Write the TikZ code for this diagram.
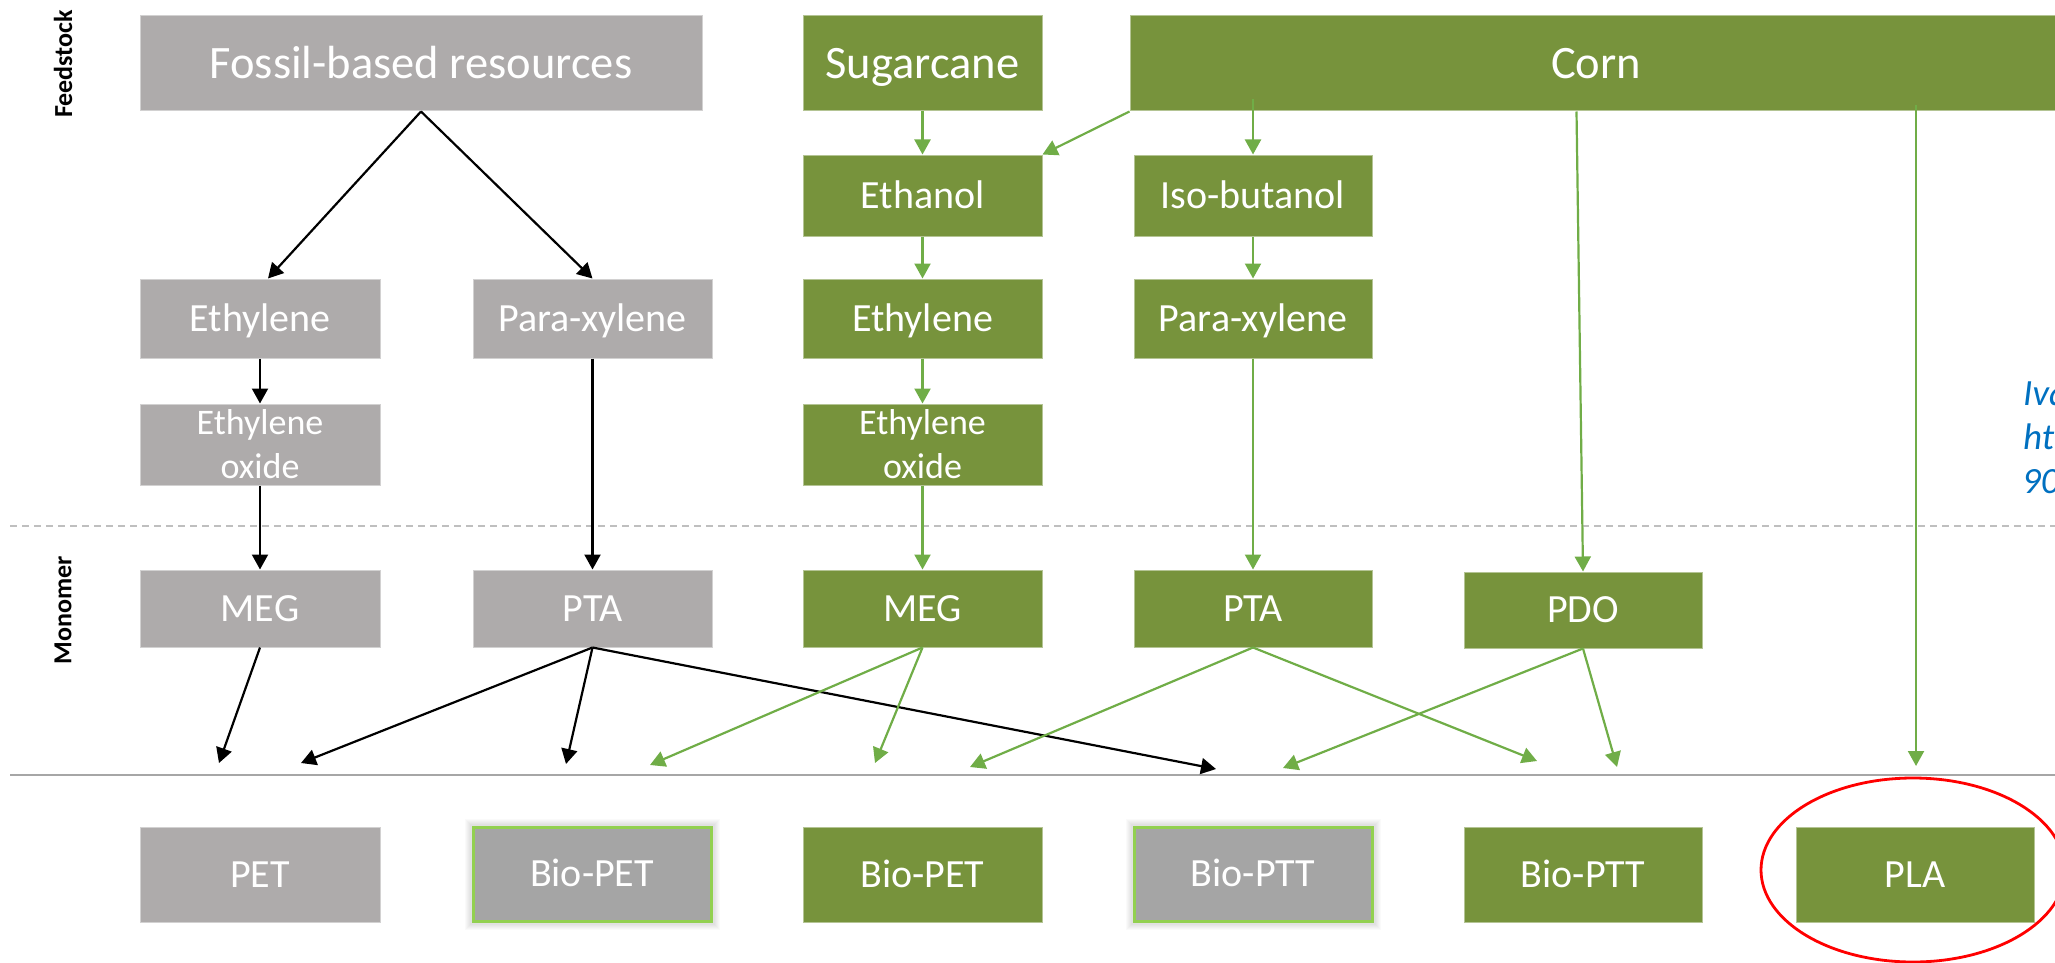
\documentclass[tikz,border=0pt]{standalone}
\usepackage{fontspec}
\setmainfont{Carlito}
\usetikzlibrary{arrows.meta,calc,backgrounds,shapes.geometric}

\definecolor{fossilgrey}{HTML}{AEABAB}
\definecolor{biogreen}{HTML}{77933C}
\definecolor{arrowgreen}{HTML}{70AD47}
\definecolor{mixgrey}{HTML}{A5A5A5}
\definecolor{mixedge}{HTML}{92D050}
\definecolor{refblue}{HTML}{0070C0}
\definecolor{rulegrey}{HTML}{A6A6A6}
\definecolor{dashgrey}{HTML}{BFBFBF}

\tikzset{
  box/.style={rectangle, inner sep=0pt, text=white, line width=1pt,
    minimum width=239pt},
  big/.style={font=\fontsize{46.5}{54}\selectfont, minimum height=95pt,
    text height=30pt, text depth=0pt},
  mid/.style={font=\fontsize{40}{48}\selectfont,
    text height=25.8pt, text depth=0pt},
  two/.style={font=\fontsize{36}{44}\selectfont, align=center, minimum height=81pt},
  fossil/.style={box, fill=fossilgrey, draw=fossilgrey!55!white},
  bio/.style={box, fill=biogreen, draw=biogreen!55!white},
  mixed/.style={box, fill=mixgrey, draw=mixedge, line width=3pt},
  blk/.style={draw=black, line width=2.2pt, -{Triangle[width=16pt,length=15pt]}},
  grn/.style={draw=arrowgreen, line width=2.2pt, -{Triangle[width=16pt,length=15pt]}},
  side/.style={font=\fontsize{26}{30}\selectfont\bfseries, rotate=90, inner sep=0pt},
  cite/.style={font=\fontsize{37}{44}\selectfont\itshape, text=refblue,
    anchor=base west, inner sep=0pt},
}

\begin{document}
\begin{tikzpicture}[x=1pt, y=-1pt]
\useasboundingbox (0,0) rectangle (2055,963);

% stage labels
\node[side] (feed) at (63,64) {Feedstock};
\node[side] (mono) at (63,610) {Monomer};

% stage separators
\draw[dashgrey, line width=1.5pt, dash pattern=on 7pt off 5pt] (10,526) -- (2055,526);
\draw[rulegrey, line width=1.5pt] (10,775) -- (2055,775);

% feedstocks
\node[fossil, big, minimum width=562pt] (fossil) at (421,63.5) {Fossil-based resources};
\node[bio, big] (sugar) at (922.5,63.5) {Sugarcane};
\node[bio, big, minimum width=932pt] (corn) at (1596,63.5) {Corn};

% intermediates
\node[bio, mid, minimum height=81pt] (ethanol) at (922.5,195.5) {Ethanol};
\node[bio, mid, minimum height=81pt, minimum width=238pt] (iso) at (1253,195.5) {Iso-butanol};

\node[fossil, mid, minimum height=79pt, minimum width=240pt] (ethyG) at (260,318.5) {Ethylene};
\node[fossil, mid, minimum height=79pt] (pxG) at (592.5,318.5) {Para-xylene};
\node[bio, mid, minimum height=79pt] (ethyB) at (922.5,318.5) {Ethylene};
\node[bio, mid, minimum height=79pt, minimum width=238pt] (pxB) at (1253,318.5) {Para-xylene};

\node[fossil, two, minimum width=240pt] (eoG) at (260,444.5) {Ethylene\\oxide};
\node[bio, two] (eoB) at (922.5,444.5) {Ethylene\\oxide};

% monomers
\node[fossil, mid, minimum height=77pt, minimum width=240pt] (megG) at (260,608.5) {MEG};
\node[fossil, mid, minimum height=77pt] (ptaG) at (592.5,608.5) {PTA};
\node[bio, mid, minimum height=77pt] (megB) at (922.5,608.5) {MEG};
\node[bio, mid, minimum height=77pt, minimum width=238pt] (ptaB) at (1253,608.5) {PTA};
\node[bio, mid, minimum height=76pt, minimum width=238pt] (pdo) at (1583,610) {PDO};

% polymers
\node[fossil, mid, minimum height=95pt, minimum width=240pt] (pet) at (260,874.5) {PET};
\node[mixed, mid, minimum height=94pt, minimum width=238pt] (bpetG) at (592,874) {Bio-PET};
\node[bio, mid, minimum height=95pt] (bpetB) at (922.5,874.5) {Bio-PET};
\node[mixed, mid, minimum height=94pt, minimum width=238pt] (bpttG) at (1253,874) {Bio-PTT};
\node[bio, mid, minimum height=95pt, minimum width=238pt] (bpttB) at (1583,874.5) {Bio-PTT};
\node[bio, mid, minimum height=95pt, minimum width=238pt] (pla) at (1915,874.5) {PLA};

% soft halo behind the partly bio-based polymers
\begin{pgfonlayer}{background}
\foreach \n in {bpetG,bpttG}{
  \foreach \i in {2,...,7}{
    \fill[black, opacity=0.018]
      ($(\n.south west)+(-\i pt,-\i pt)$) rectangle ($(\n.north east)+(\i pt,\i pt)$);
  }
}
\end{pgfonlayer}

% highlight
\node[draw=red, line width=2.8pt, ellipse, minimum width=304pt, minimum height=184pt,
  inner sep=0pt] (ring) at (1913,870) {};

% arrow ends above the polymer row
\coordinate (tPETa) at (219,763);
\coordinate (tPETb) at (301,763);
\coordinate (tBPGa) at (566,764);
\coordinate (tBPGb) at (650,765);
\coordinate (tBPBa) at (875,763);
\coordinate (tBPBb) at (970,767);
\coordinate (tBTGa) at (1216,769);
\coordinate (tBTGb) at (1283,768);
\coordinate (tBTBa) at (1537,761);
\coordinate (tBTBb) at (1617,767);
\coordinate (tPLA) at (1916,766);

% fossil route
\draw[blk] (fossil.south) -- ($(ethyG.north)+(8pt,0)$);
\draw[blk] (fossil.south) -- (pxG.north);
\draw[blk] (ethyG.south) -- (eoG.north);
\draw[blk] (eoG.south) -- (megG.north);
\draw[blk] (pxG.south) -- (ptaG.north);
\draw[blk] (megG.south) -- (tPETa);
\draw[blk] (ptaG.south) -- (tPETb);
\draw[blk] (ptaG.south) -- (tBPGa);
\draw[blk] (ptaG.south) -- (tBTGa);

% bio-based route
\draw[grn] (sugar.south) -- (ethanol.north);
\draw[grn] (corn.south west) -- (ethanol.north east);
\draw[grn] ($(iso.north |- corn.south)+(0,12pt)$) -- (iso.north);
\draw[grn] ($(corn.south west)+(447pt,0)$) -- (pdo.north);
\draw[grn] ($(tPLA |- corn.south)+(0,6pt)$) -- (tPLA);
\draw[grn] (ethanol.south) -- (ethyB.north);
\draw[grn] (ethyB.south) -- (eoB.north);
\draw[grn] (eoB.south) -- (megB.north);
\draw[grn] (iso.south) -- (pxB.north);
\draw[grn] (pxB.south) -- (ptaB.north);
\draw[grn] (megB.south) -- (tBPGb);
\draw[grn] (megB.south) -- (tBPBa);
\draw[grn] (ptaB.south) -- (tBPBb);
\draw[grn] (ptaB.south) -- (tBTBa);
\draw[grn] (pdo.south) -- (tBTGb);
\draw[grn] (pdo.south) -- (tBTBb);

% reference text running off the edge
\node[cite] (c1) at (2023,405) {Iva};
\node[cite] (c2) at (2023,449) {ht};
\node[cite] (c3) at (2022,493) {90};
\end{tikzpicture}
\end{document}
